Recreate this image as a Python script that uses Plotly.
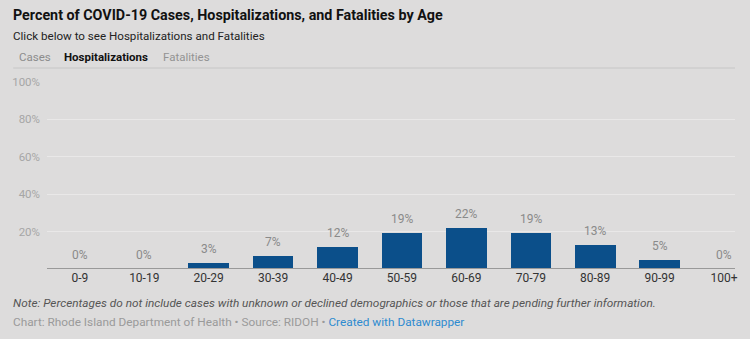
import plotly.graph_objects as go

age_groups = ["0-9", "10-19", "20-29", "30-39", "40-49", "50-59", "60-69", "70-79", "80-89", "90-99", "100+"]
hosp_pct = [0, 0, 3, 7, 12, 19, 22, 19, 13, 5, 0]
y_ticks = [20, 40, 60, 80, 100]
y_tick_labels = ["20%", "40%", "60%", "80%", "100%"]

BG = "#dddcdc"
FONT = "Roboto"
W, H = 750, 339
L, R, T, B = 46, 12, 82, 70

xs = list(range(len(age_groups)))

fig = go.Figure()
fig.add_trace(go.Bar(x=xs, y=hosp_pct, width=0.63,
                     marker=dict(color="#0b4f8a", line=dict(width=0)), hoverinfo="skip"))
for x, v in zip(xs, hosp_pct):
    fig.add_annotation(x=x, y=v, text=f"{v}%", showarrow=False, yanchor="bottom", yshift=5,
                       font=dict(family=FONT, size=12, color="#8a8a8a"))

# baseline
fig.add_shape(type="line", xref="paper", yref="y", x0=0, x1=1, y0=0, y1=0,
              line=dict(color="#999999", width=2))

def px(xp):
    return (xp - L) / (W - L - R)

def py(yp):
    return (H - yp - B) / (H - T - B)

texts = [
    (10, 15, "<b>Percent of COVID-19 Cases, Hospitalizations, and Fatalities by Age</b>", 14.3, "#111111"),
    (10, 36, "Click below to see Hospitalizations and Fatalities", 11.6, "#222222"),
    (15.5, 57, "Cases", 11.5, "#8c8c8c"),
    (61.5, 57, "<b>Hospitalizations</b>", 11.5, "#111111"),
    (160.5, 57, "Fatalities", 11.5, "#939393"),
    (10, 303, "<i>Note: Percentages do not include cases with unknown or declined demographics or those that are pending further information.</i>", 11.8, "#555555"),
    (10, 322, "Chart: Rhode Island Department of Health • Source: RIDOH • <span style='color:#2e8bd0'>Created with Datawrapper</span>", 11.8, "#9a9a9a"),
]
for xp, yp, t, sz, col in texts:
    fig.add_annotation(xref="paper", yref="paper", x=px(xp), y=py(yp), xanchor="left", yanchor="middle",
                       text=t, showarrow=False, font=dict(family=FONT, size=sz, color=col))

# line under tabs
fig.add_shape(type="line", xref="paper", yref="paper", x0=px(12), x1=px(738), y0=py(68), y1=py(68),
              line=dict(color="#c6c6c6", width=1))

fig.update_layout(
    width=W, height=H, margin=dict(l=L, r=R, t=T, b=B),
    paper_bgcolor=BG, plot_bgcolor=BG, showlegend=False, bargap=0,
    xaxis=dict(range=[-0.51, 10.17], tickvals=xs, ticktext=age_groups, showgrid=False, zeroline=False,
               showline=False, ticks="", tickfont=dict(family=FONT, size=12, color="#333333"), fixedrange=True),
    yaxis=dict(range=[0, 100], tickvals=y_ticks, ticktext=y_tick_labels, showgrid=True, gridcolor="#e9e8e8",
               zeroline=False, showline=False, ticks="", ticklabelstandoff=6,
               tickfont=dict(family=FONT, size=11.5, color="#a6a6a6"), fixedrange=True),
)
fig.write_html("out.html", config={"displayModeBar": False})
